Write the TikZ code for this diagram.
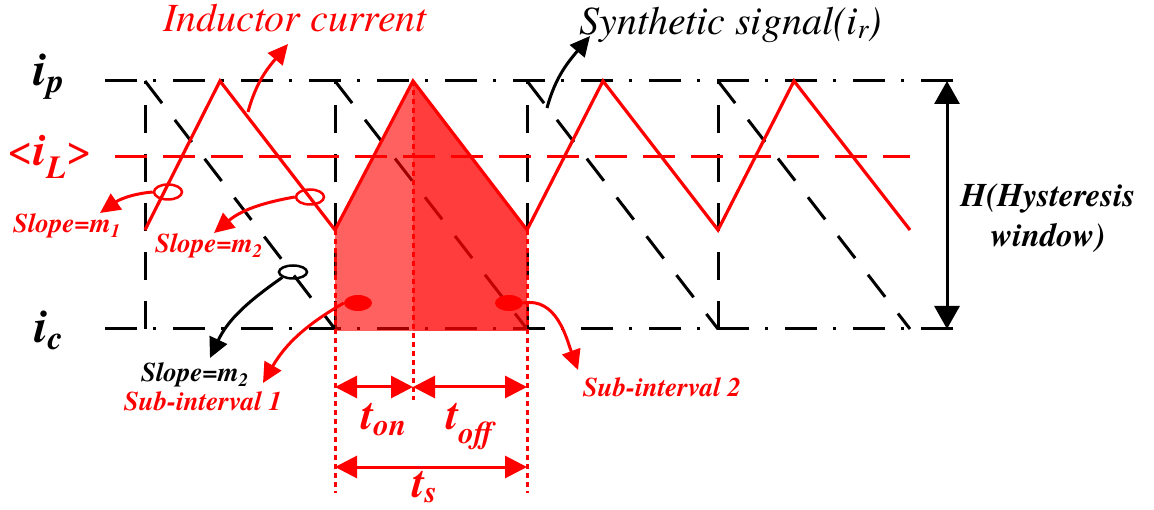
\documentclass[tikz,border=0pt]{standalone}
\usepackage{fontspec}
\setmainfont{texgyretermes}[
  Extension=.otf,
  UprightFont=*-regular,
  BoldFont=*-bold,
  ItalicFont=*-italic,
  BoldItalicFont=*-bolditalic]
\usetikzlibrary{arrows.meta,positioning,shapes.geometric}
\newcommand{\fsz}[1]{\fontsize{#1}{#1}\selectfont}

\begin{document}
\begin{tikzpicture}[
    x=1pt, y=-1pt,
    level_line/.style={line width=3pt, dash pattern=on 32pt off 16pt on 3pt off 17pt},
    synth_line/.style={line width=3pt, dash pattern=on 28pt off 21pt},
    curr_line/.style={red, line width=3.2pt},
    avg_line/.style={red, line width=3pt, dash pattern=on 32pt off 16pt},
    dot_line/.style={red, line width=3pt, dash pattern=on 5pt off 4pt},
    dim_arrow/.style={red, line width=3pt, {Triangle[length=22pt,width=22pt]}-{Triangle[length=22pt,width=22pt]}},
    note_arrow/.style={line width=3pt, -{Triangle[length=20pt,width=19pt]}},
    ring/.style={ellipse, draw, line width=2.5pt, minimum width=28pt, minimum height=15pt, inner sep=0pt},
    blob/.style={ellipse, fill=red, minimum width=28pt, minimum height=16pt, inner sep=0pt},
    lbl/.style={inner sep=0pt, anchor=base, font=\bfseries\itshape\fsz{27}},
    big_lbl/.style={inner sep=0pt, anchor=base, font=\bfseries\itshape\fsz{48}},
    head_lbl/.style={inner sep=0pt, anchor=base, font=\itshape\fsz{40}}
]
\useasboundingbox (0,0) rectangle (1154,510);

% Window levels
\coordinate (ip_l) at (105,81);
\coordinate (ip_r) at (962,81);
\coordinate (ic_l) at (105,329);
\coordinate (ic_r) at (962,329);
\draw[level_line] (ip_l) -- (ip_r);
\draw[level_line] (ic_l) -- (ic_r);

% Synthetic signal
\foreach \xa/\xb in {145/335, 335/527, 527/718, 718/910} {
  \draw[synth_line] (\xa,329) -- (\xa,81);
  \draw[synth_line] (\xa,81) -- (\xb,329);
}

% Shaded switching period
\fill[red, fill opacity=0.62] (335,331) -- (335,230) -- (413,81) -- (413,331) -- cycle;
\fill[red, fill opacity=0.76] (413,331) -- (413,81) -- (527,230) -- (527,331) -- cycle;

% Inductor current and its average
\draw[avg_line] (115,157) -- (910,157);
\draw[curr_line] (145,230) -- (220,81) -- (335,230) -- (413,81) -- (527,230)
  -- (603,81) -- (718,230) -- (794,81) -- (910,230);

% Time markers
\coordinate (v1) at (335,493);
\coordinate (v2) at (413,400);
\coordinate (v3) at (527,493);
\coordinate (r_on) at (0,387);
\coordinate (r_s) at (0,467);
\draw[dot_line] (335,230) -- (v1);
\draw[dot_line] (413,81) -- (v2);
\draw[dot_line] (527,230) -- (v3);
\draw[dim_arrow] (v1 |- r_on) -- (v2 |- r_on);
\draw[dim_arrow] (v2 |- r_on) -- (v3 |- r_on);
\draw[dim_arrow] (v1 |- r_s) -- (v3 |- r_s);

% Hysteresis window
\coordinate (h_top) at (947,81);
\coordinate (h_bot) at (947,329);
\draw[line width=3pt, {Triangle[length=23pt,width=25pt]}-{Triangle[length=23pt,width=25pt]}] (h_top) -- (h_bot);

% Markers on the waveforms
\node[ring, red] (ring_m1) at (168,192) {};
\node[ring, red] (ring_m2) at (310,197) {};
\node[ring, minimum height=13pt] (ring_k) at (293,272) {};
\node[blob] (blob_s1) at (358,303) {};
\node[blob] (blob_s2) at (509,303) {};

% Labels
\node[big_lbl] (ip_lbl) at (49,86) {i\textsubscript{p}};
\node[big_lbl] (ic_lbl) at (49,343) {i\textsubscript{c}};
\node[inner sep=0pt, anchor=base, red, font=\fsz{46}] (il_lbl) at (50,166) {<\textbf{\textit{i\textsubscript{L}}}>};
\node[head_lbl, red] (ind_lbl) at (295,32) {Inductor current};
\node[head_lbl] (syn_lbl) at (731,35) {Synthetic signal(i\textsubscript{r})};
\node[lbl, red] (m1_lbl) at (67,233) {Slope=m\textsubscript{1}};
\node[lbl, red] (m2_lbl) at (209,253) {Slope=m\textsubscript{2}};
\node[lbl] (k_lbl) at (195,382) {Slope=m\textsubscript{2}};
\node[lbl, red] (s1_lbl) at (203,410) {Sub-interval 1};
\node[lbl, red] (s2_lbl) at (662,397) {Sub-interval 2};
\node[lbl, red, font=\bfseries\itshape\fsz{44}] (ton_lbl) at (384,430) {t\textsubscript{on}};
\node[lbl, red, font=\bfseries\itshape\fsz{44}] (toff_lbl) at (470,430) {t\textsubscript{off}};
\node[lbl, red, font=\bfseries\itshape\fsz{44}] (ts_lbl) at (425,497) {t\textsubscript{s}};
\node[inner sep=0pt, align=center, font=\bfseries\itshape\fontsize{33}{40}\selectfont] (h_lbl) at (1048,218) {H(Hysteresis\\window)};

% Pointer arrows
\coordinate (ind_src) at (248,112);
\coordinate (ind_tip) at (288,44);
\coordinate (syn_src) at (547,108);
\coordinate (syn_tip) at (590,36);
\coordinate (m1_tip) at (100,213);
\coordinate (m2_tip) at (214,233);
\coordinate (k_tip) at (210,358);
\coordinate (s1_tip) at (263,383);
\coordinate (s2_tip) at (578,370);
\draw[note_arrow, red] (ind_src) to[out=75,in=230] (ind_tip);
\draw[note_arrow] (syn_src) to[out=75,in=230] (syn_tip);
\draw[note_arrow, red] (ring_m1.west) to[out=185,in=35] (m1_tip);
\draw[note_arrow, red] (ring_m2.west) to[out=190,in=40] (m2_tip);
\draw[note_arrow] (ring_k.south west) to[out=215,in=65] (k_tip);
\draw[note_arrow, red] (blob_s1.west) to[out=210,in=60] (s1_tip);
\draw[note_arrow, red] (blob_s2.east) to[out=10,in=110] (s2_tip);

\end{tikzpicture}
\end{document}
